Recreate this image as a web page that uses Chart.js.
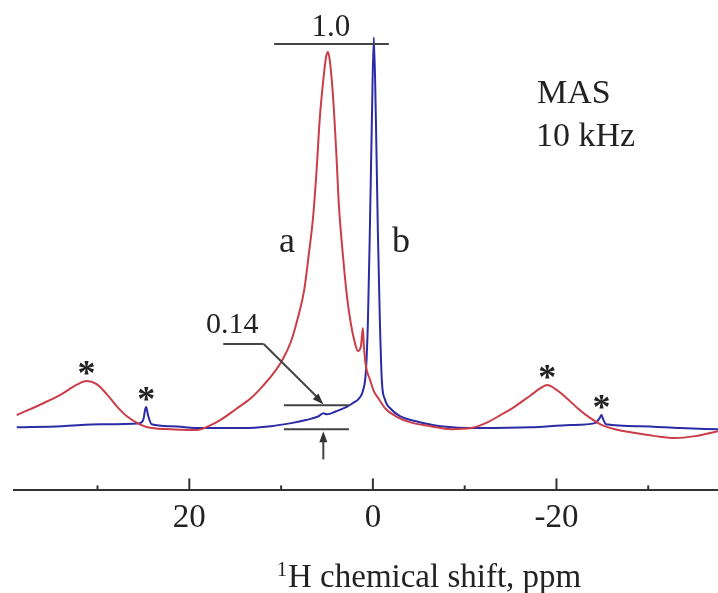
<!DOCTYPE html>
<html>
<head>
<meta charset="utf-8">
<script src="https://cdn.jsdelivr.net/npm/chart.js@4.4.1/dist/chart.umd.min.js"></script>
<style>
  html, body { margin: 0; padding: 0; background: #fff; }
  #wrap { width: 718px; height: 593px; }
</style>
</head>
<body>
<div id="wrap"><canvas id="nmr" width="718" height="593"></canvas></div>
<script>
// -------------------- Data (ppm, relative intensity) --------------------
const redPpm = [38.8, 36.1, 33.9, 32.3, 31.2, 30.1, 29.0, 27.9, 26.8, 25.4, 24.1, 22.0, 19.2, 17.9,
  16.5, 14.9, 13.3, 12.0, 10.9, 9.8, 8.9, 8.2, 7.5, 7.0, 6.5, 6.1, 5.8, 5.4, 5.1, 4.9, 4.7, 4.35,
  4.0, 3.7, 3.26, 2.83, 2.4, 1.96, 1.63, 1.3, 1.09, 0.98, 0.76, 0.33, -0.1, -0.65, -1.4, -2.5,
  -4.1, -6.3, -8.5, -10.7, -12.3, -13.9, -15.5, -17.2, -18.3, -19.0, -19.9, -21.0, -22.4, -23.7,
  -24.8, -26.4, -28.6, -30.8, -32.9, -35.1, -37.6];
const redInt = [0.029, 0.058, 0.084, 0.108, 0.118, 0.110, 0.084, 0.052, 0.026, 0.005, -0.005, -0.008, -0.010, 0,
  0.018, 0.045, 0.073, 0.105, 0.136, 0.176, 0.223, 0.281, 0.354, 0.446, 0.551, 0.682, 0.801, 0.906, 0.966, 0.979, 0.958, 0.866,
  0.722, 0.577, 0.446, 0.341, 0.268, 0.218, 0.197, 0.210, 0.257, 0.210, 0.157, 0.123, 0.092, 0.071, 0.045, 0.026,
  0.010, 0, -0.008, -0.005, 0.008, 0.029, 0.052, 0.081, 0.100, 0.108, 0.097, 0.076, 0.045, 0.021,
  0.005, -0.008, -0.018, -0.026, -0.031, -0.026, -0.013];

const bluePpm = [38.8, 33.9, 29.6, 25.4, 25.0, 24.8, 24.7, 24.5, 24.1, 22.0, 18.7, 14.3, 11.1, 8.9,
  7.3, 5.9, 5.4, 5.0, 4.0, 2.9, 2.2, 1.5, 1.09, 0.76, 0.54, 0.33, 0.11, -0.1, -0.33, -0.54, -0.76,
  -0.98, -1.3, -1.96, -3.0, -4.7, -7.4, -11.7, -17.2, -21.5, -24.2, -24.7, -24.9, -25.1, -25.4,
  -29.1, -33.5, -37.6];
const blueInt = [-0.003, 0, 0.005, 0.008, 0.018, 0.045, 0.050, 0.029, 0.005, 0, -0.005, -0.005, 0, 0.008,
  0.016, 0.026, 0.034, 0.031, 0.039, 0.050, 0.060, 0.073, 0.092, 0.144, 0.276, 0.512, 0.800, 1.018, 0.800, 0.512, 0.276,
  0.118, 0.071, 0.045, 0.026, 0.013, 0, -0.005, -0.003, 0.003, 0.008, 0.021, 0.029, 0.018, 0.005,
  0, -0.005, -0.008];

const tickValues = [30, 20, 10, 0, -10, -20, -30];
const tickLabels = ['', '20', '', '0', '', '-20', ''];

const toPoints = (xs, ys) => xs.map((x, i) => ({ x, y: ys[i] }));

const serif = '"Liberation Serif", "Times New Roman", serif';

// -------------------- Overlay: inward ticks, title, annotations --------------------
const overlay = {
  id: 'overlay',
  afterDraw(chart) {
    const { ctx, chartArea } = chart;
    const xs = chart.scales.x, ys = chart.scales.y;
    const px = v => xs.getPixelForValue(v);
    const py = v => ys.getPixelForValue(v);

    ctx.save();
    // ticks pointing up into the plot
    ctx.strokeStyle = '#333';
    ctx.lineWidth = 2;
    tickValues.forEach((v, i) => {
      const len = tickLabels[i] ? 12 : 5;
      ctx.beginPath();
      ctx.moveTo(px(v), chartArea.bottom);
      ctx.lineTo(px(v), chartArea.bottom - len);
      ctx.stroke();
    });

    // axis title with superscript 1
    ctx.fillStyle = '#222';
    ctx.textBaseline = 'alphabetic';
    ctx.textAlign = 'left';
    ctx.font = '20px ' + serif;
    ctx.fillText('1', 277, 576);
    ctx.font = '33px ' + serif;
    ctx.fillText('H chemical shift, ppm', 288, 587);

    // annotation lines
    ctx.strokeStyle = '#444';
    ctx.lineWidth = 2;
    const line = (x1, y1, x2, y2) => {
      ctx.beginPath(); ctx.moveTo(x1, y1); ctx.lineTo(x2, y2); ctx.stroke();
    };
    const arrowHead = (x, y, ang) => {
      const L = 11, W = 4;
      ctx.beginPath();
      ctx.moveTo(x, y);
      ctx.lineTo(x - L * Math.cos(ang) + W * Math.sin(ang), y - L * Math.sin(ang) - W * Math.cos(ang));
      ctx.lineTo(x - L * Math.cos(ang) - W * Math.sin(ang), y - L * Math.sin(ang) + W * Math.cos(ang));
      ctx.closePath();
      ctx.fillStyle = '#333';
      ctx.fill();
    };

    // 1.0 level line
    line(px(10.76), py(1.0), px(-1.74), py(1.0));
    // 0.14 bracket lines
    line(px(9.7), py(0.055), px(2.6), py(0.055));
    line(px(9.7), py(-0.008), px(2.6), py(-0.008));
    // label leader
    const lx1 = px(16.3), lx2 = px(11.9), ly = py(0.215);
    const tx = px(5.4), ty = py(0.055) - 1;
    line(lx1, ly, lx2, ly);
    line(lx2, ly, tx - 5, ty - 6);
    arrowHead(tx, ty, Math.atan2(ty - ly, tx - lx2));
    // upward arrow
    const ub = py(-0.087), ut = py(-0.008) + 2;
    line(tx, ub, tx, ut + 8);
    arrowHead(tx, ut, -Math.PI / 2);

    // texts
    ctx.fillStyle = '#222';
    ctx.textAlign = 'center';
    ctx.font = '31px ' + serif;
    ctx.fillText('1.0', px(4.57), 36);
    ctx.font = '30px ' + serif;
    ctx.textAlign = 'left';
    ctx.fillText('0.14', 206, 333);
    ctx.font = '34px ' + serif;
    ctx.fillText('MAS', 537, 103);
    ctx.fillText('10 kHz', 536, 146);
    ctx.textAlign = 'center';
    ctx.font = '36px ' + serif;
    ctx.fillText('a', 287, 252);
    ctx.fillText('b', 401, 252);

    // spinning sidebands
    ctx.font = 'bold 36px ' + serif;
    [[31.2, 0.118], [24.7, 0.050], [-19.0, 0.108], [-24.9, 0.029]].forEach(([x, y]) => {
      ctx.fillText('*', px(x), py(y) + 4);
    });
    ctx.restore();
  }
};

// -------------------- Chart --------------------
new Chart(document.getElementById('nmr'), {
  type: 'line',
  data: {
    datasets: [
      {
        label: 'a',
        data: toPoints(redPpm, redInt),
        borderColor: '#cb3d48',
        borderWidth: 2,
        pointRadius: 0,
        cubicInterpolationMode: 'monotone',
      },
      {
        label: 'b',
        data: toPoints(bluePpm, blueInt),
        borderColor: '#2b2ba6',
        borderWidth: 2,
        pointRadius: 0,
        cubicInterpolationMode: 'monotone',
      }
    ]
  },
  options: {
    responsive: false,
    animation: false,
    devicePixelRatio: 1,
    layout: { padding: { left: 14, right: 0, top: 10, bottom: 55 } },
    plugins: { legend: { display: false }, tooltip: { enabled: false } },
    scales: {
      x: {
        type: 'linear',
        reverse: true,
        min: -37.6,
        max: 39.1,
        afterBuildTicks: scale => { scale.ticks = tickValues.map(v => ({ value: v })); },
        ticks: {
          autoSkip: false,
          maxRotation: 0,
          padding: 0,
          color: '#222',
          font: { family: serif, size: 33 },
          callback: (v) => tickLabels[tickValues.indexOf(v)] ?? '',
        },
        grid: { display: false },
        border: { display: true, color: '#333', width: 2 },
      },
      y: {
        display: false,
        min: -0.168,
        max: 1.089,
      }
    }
  },
  plugins: [overlay]
});
</script>
</body>
</html>
